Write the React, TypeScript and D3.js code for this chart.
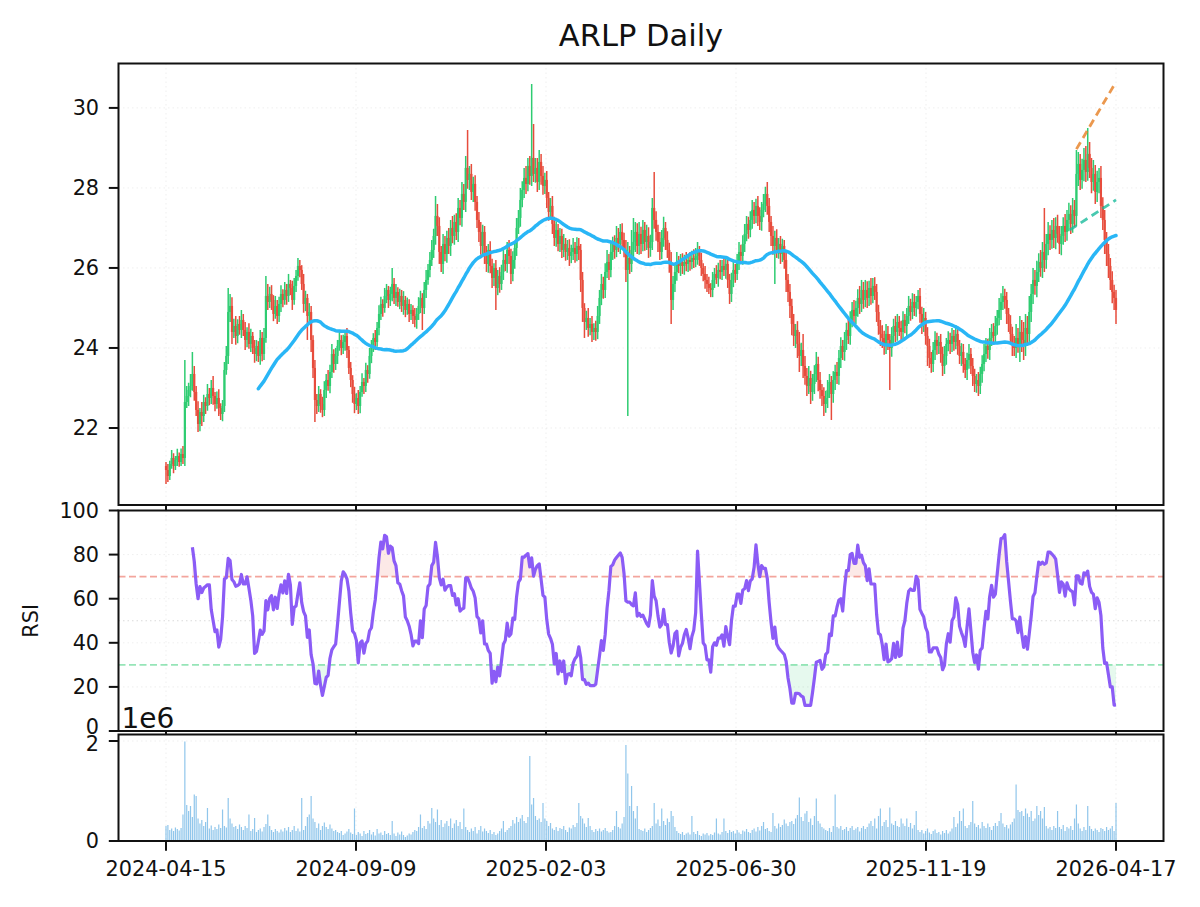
import React from "react";
import * as d3 from "d3";

// ---------- data ----------
const tickDates = ["2024-04-15", "2024-09-09", "2025-02-03", "2025-06-30", "2025-11-19", "2026-04-17"];

const firstOpen = 21.05;

const closes = [
  20.95, 20.80, 21.10, 21.25, 21.05, 21.20, 21.30, 21.15, 21.35, 21.25,
  22.65, 22.80, 22.95, 23.05, 23.35, 22.90, 22.45, 22.10, 22.40, 22.30,
  22.65, 22.55, 22.85, 22.75, 23.00, 22.80, 22.60, 22.75, 22.50, 22.35,
  22.55, 23.45, 23.80, 24.90, 25.05, 24.40, 24.55, 24.30, 24.60, 24.45,
  24.70, 24.45, 24.20, 24.40, 24.10, 24.30, 24.00, 23.85, 24.05, 23.80,
  24.25, 23.85, 24.25, 25.30, 25.15, 25.35, 25.20, 24.85, 25.05, 24.80,
  25.10, 25.35, 25.20, 25.45, 25.30, 25.60, 25.50, 25.20, 25.55, 25.80,
  26.05, 25.95, 25.60, 25.10, 25.25, 24.80, 24.90, 24.20, 23.50, 22.70,
  22.55, 22.85, 22.60, 22.45, 22.95, 23.20, 23.05, 23.40, 23.85, 23.60,
  23.80, 24.05, 24.20, 24.00, 24.15, 24.30, 23.95, 23.50, 23.20, 22.85,
  22.60, 22.75, 22.55, 22.90, 23.15, 23.05, 23.45, 23.35, 23.80, 24.05,
  24.25, 24.15, 24.50, 24.85, 25.10, 25.00, 25.30, 25.45, 25.20, 25.35,
  25.60, 25.25, 25.40, 25.15, 25.30, 25.05, 25.20, 24.95, 25.10, 24.85,
  24.95, 24.80, 24.70, 24.85, 25.05, 25.25, 25.00, 25.45, 25.70, 25.95,
  26.20, 26.45, 26.80, 27.30, 27.05, 26.40, 26.10, 26.60, 26.35, 26.75,
  26.55, 27.00, 26.80, 27.15, 26.90, 27.50, 27.25, 27.85, 27.65, 28.50,
  28.20, 28.35, 27.90, 28.10, 27.65, 27.20, 26.90, 26.55, 26.90, 26.35,
  26.10, 26.45, 26.05, 25.75, 26.00, 25.50, 25.80, 25.60, 25.90, 26.20,
  26.10, 26.45, 26.30, 25.85, 26.20, 26.50, 27.00, 27.25, 27.70, 27.95,
  28.25, 28.10, 28.55, 28.30, 28.75, 28.35, 28.50, 28.15, 28.65, 28.30,
  28.05, 28.20, 27.75, 27.40, 27.55, 27.10, 26.75, 26.95, 26.60, 26.80,
  26.45, 26.60, 26.40, 26.50, 26.30, 26.40, 26.50, 26.35, 26.55, 26.45,
  25.70, 25.00, 24.65, 24.75, 24.50, 24.60, 24.40, 24.50, 24.40, 24.80,
  25.25, 25.60, 25.45, 25.90, 26.15, 25.95, 26.40, 26.60, 26.45, 26.75,
  26.60, 26.90, 26.70, 26.45, 25.95, 26.25, 26.10, 26.45, 26.65, 26.90,
  26.55, 26.85, 26.60, 26.95, 26.65, 26.80, 26.50, 26.65, 27.50, 27.20,
  26.90, 26.65, 26.40, 26.75, 27.00, 26.70, 26.45, 26.10, 25.20, 25.60,
  25.90, 26.15, 26.05, 26.15, 26.05, 26.15, 26.10, 26.20, 26.15, 26.25,
  26.20, 26.30, 26.40, 26.20, 26.00, 25.85, 25.70, 25.60, 25.50, 25.45,
  25.70, 25.85, 25.75, 25.95, 25.90, 26.05, 25.95, 26.10, 25.70, 25.35,
  25.70, 25.95, 25.85, 26.15, 26.40, 26.30, 26.60, 26.85, 27.10, 26.95,
  27.20, 27.45, 27.30, 27.55, 27.30, 27.15, 27.45, 27.60, 27.85, 27.55,
  27.15, 26.80, 26.55, 26.75, 26.45, 26.60, 26.35, 26.55, 26.20, 25.70,
  25.40, 25.05, 24.60, 24.30, 24.45, 24.10, 23.80, 23.95, 23.55, 23.30,
  23.05, 23.25, 22.90, 23.10, 23.35, 23.60, 23.20, 22.95, 22.80, 22.60,
  22.75, 22.95, 23.15, 22.85, 23.20, 23.40, 23.30, 23.75, 24.05, 23.90,
  24.20, 24.45, 24.30, 24.70, 24.95, 24.80, 25.00, 25.25, 25.10, 25.45,
  25.20, 25.45, 25.25, 25.50, 25.30, 25.55, 25.40, 24.90, 24.55, 24.35,
  24.25, 24.05, 24.35, 24.20, 24.00, 24.30, 24.55, 24.40, 24.65, 24.50,
  24.40, 24.70, 24.55, 24.80, 25.05, 24.90, 25.15, 25.00, 25.15, 25.30,
  24.85, 24.60, 24.75, 24.30, 24.05, 23.75, 23.60, 23.95, 24.20, 24.05,
  24.15, 23.85, 23.55, 23.80, 24.10, 24.20, 24.10, 24.30, 24.15, 24.35,
  24.05, 23.80, 23.90, 23.60, 23.45, 23.70, 23.85, 23.55, 23.30, 23.10,
  23.20, 23.05, 23.35, 23.60, 23.85, 24.05, 23.95, 24.25, 24.40, 24.30,
  24.55, 24.75, 24.95, 25.15, 25.30, 25.20, 24.85, 24.60, 24.35, 24.10,
  24.00, 24.25, 24.10, 24.40, 24.20, 24.05, 24.50, 24.35, 24.90, 25.35,
  25.70, 25.55, 25.90, 26.15, 26.00, 26.40, 26.20, 26.60, 26.85, 26.70,
  26.95, 26.75, 27.05, 26.85, 26.60, 26.80, 27.05, 26.90, 27.20, 27.35,
  27.10, 27.45, 27.30, 28.35, 28.60, 28.20, 28.45, 28.70, 28.40, 28.85,
  28.50, 28.15, 28.35, 27.90, 28.15, 28.25, 27.55, 27.20, 26.70, 26.35,
  26.05, 25.70, 25.40, 25.25, 24.95,
];

// upper / lower shadows beyond the body, in cents
const wickUpCents = [
  10, 15, 8, 20, 12, 10, 18, 9, 14, 20,
  105, 25, 18, 30, 55, 20, 15, 22, 10, 25,
  18, 12, 25, 15, 20, 30, 10, 16, 22, 12,
  15, 20, 25, 60, 30, 22, 18, 25, 12, 20,
  25, 15, 20, 12, 22, 18, 10, 20, 15, 12,
  20, 15, 25, 50, 30, 18, 22, 12, 25, 15,
  18, 22, 12, 20, 15, 25, 10, 18, 20, 15,
  20, 15, 12, 25, 18, 10, 22, 15, 12, 20,
  15, 20, 12, 18, 22, 15, 25, 18, 25, 12,
  20, 15, 25, 12, 18, 15, 20, 10, 15, 12,
  18, 12, 20, 15, 22, 10, 18, 12, 20, 15,
  12, 20, 15, 22, 18, 12, 20, 15, 10, 18,
  40, 15, 20, 12, 18, 15, 22, 10, 16, 12,
  15, 12, 20, 15, 22, 18, 12, 20, 25, 15,
  20, 25, 18, 50, 30, 22, 15, 25, 20, 18,
  25, 20, 30, 18, 22, 25, 20, 30, 25, 30,
  95, 20, 25, 18, 22, 15, 20, 25, 18, 15,
  20, 15, 22, 18, 12, 20, 15, 22, 18, 25,
  15, 20, 25, 18, 22, 15, 25, 20, 30, 22,
  25, 30, 20, 25, 185, 85, 25, 25, 30, 20,
  25, 18, 22, 15, 20, 25, 18, 22, 15, 20,
  18, 25, 15, 20, 22, 18, 25, 15, 22, 20,
  15, 20, 12, 18, 25, 15, 20, 12, 18, 25,
  20, 25, 18, 22, 30, 20, 25, 18, 22, 30,
  25, 20, 22, 18, 25, 40, 30, 50, 60, 25,
  22, 30, 18, 25, 20, 28, 22, 18, 25, 90,
  22, 18, 25, 20, 28, 15, 22, 18, 30, 20,
  18, 25, 15, 20, 22, 18, 25, 15, 20, 18,
  22, 20, 25, 15, 18, 12, 20, 15, 18, 12,
  20, 15, 22, 18, 25, 15, 20, 18, 12, 15,
  18, 22, 15, 20, 25, 18, 22, 25, 20, 18,
  22, 25, 20, 18, 25, 22, 20, 25, 18, 30,
  20, 15, 25, 18, 22, 15, 20, 18, 15, 20,
  15, 20, 18, 25, 15, 22, 30, 18, 40, 25,
  20, 30, 18, 25, 22, 30, 18, 20, 15, 22,
  18, 25, 20, 15, 22, 18, 25, 20, 22, 15,
  20, 18, 25, 22, 20, 25, 18, 22, 30, 25,
  20, 25, 22, 18, 25, 20, 22, 20, 18, 15,
  22, 18, 25, 20, 15, 22, 18, 25, 20, 15,
  18, 22, 15, 20, 25, 18, 22, 20, 15, 15,
  20, 18, 25, 15, 22, 18, 15, 20, 22, 18,
  15, 20, 18, 25, 15, 22, 18, 20, 15, 22,
  18, 15, 22, 20, 15, 18, 25, 15, 20, 18,
  15, 20, 18, 22, 25, 20, 18, 25, 20, 22,
  25, 20, 30, 22, 25, 18, 20, 15, 22, 18,
  20, 35, 25, 40, 30, 45, 35, 30, 40, 25,
  30, 25, 28, 22, 30, 25, 110, 25, 30, 22,
  25, 30, 22, 28, 20, 25, 22, 30, 25, 28,
  22, 30, 25, 60, 30, 25, 28, 30, 35, 65,
  30, 25, 35, 22, 28, 25, 30, 22, 25, 20,
  25, 20, 22, 18, 20,
];

const wickDownCents = [
  35, 15, 10, 12, 18, 10, 15, 12, 10, 15,
  20, 15, 25, 18, 12, 22, 15, 20, 18, 25,
  15, 20, 12, 18, 15, 22, 18, 12, 20, 15,
  18, 15, 12, 20, 25, 30, 15, 22, 18, 12,
  20, 15, 25, 18, 12, 20, 15, 22, 18, 15,
  22, 18, 15, 12, 20, 15, 25, 18, 12, 20,
  15, 20, 18, 12, 22, 15, 18, 25, 12, 15,
  12, 18, 15, 22, 18, 60, 20, 30, 25, 55,
  20, 15, 22, 18, 15, 20, 12, 18, 15, 22,
  15, 20, 12, 18, 15, 22, 20, 15, 18, 22,
  23, 15, 20, 18, 12, 20, 15, 22, 12, 18,
  15, 20, 12, 18, 15, 22, 12, 18, 20, 15,
  18, 15, 20, 12, 18, 15, 22, 18, 12, 20,
  15, 20, 18, 22, 15, 18, 55, 15, 20, 12,
  18, 15, 20, 22, 25, 30, 20, 25, 18, 22,
  20, 25, 18, 22, 20, 25, 18, 22, 20, 25,
  22, 25, 20, 25, 22, 20, 25, 22, 20, 25,
  20, 22, 18, 25, 20, 55, 18, 22, 15, 20,
  18, 22, 20, 25, 18, 22, 20, 15, 22, 18,
  20, 25, 18, 22, 25, 20, 22, 25, 20, 22,
  22, 20, 25, 22, 18, 25, 20, 22, 18, 20,
  20, 18, 22, 20, 25, 18, 20, 22, 18, 25,
  30, 35, 40, 20, 22, 18, 25, 20, 22, 18,
  20, 18, 22, 20, 15, 25, 18, 20, 22, 18,
  20, 25, 22, 18, 30, 365, 25, 20, 22, 25,
  20, 22, 25, 18, 22, 20, 25, 22, 20, 22,
  22, 25, 20, 18, 22, 25, 20, 22, 60, 25,
  20, 22, 18, 25, 20, 22, 18, 20, 22, 18,
  20, 18, 22, 15, 20, 18, 22, 20, 15, 18,
  18, 20, 15, 22, 18, 20, 15, 22, 20, 25,
  20, 18, 22, 15, 20, 18, 22, 20, 18, 22,
  18, 22, 20, 18, 25, 20, 22, 18, 20, 22,
  25, 25, 22, 95, 20, 22, 25, 20, 22, 30,
  25, 30, 28, 25, 30, 35, 40, 25, 30, 22,
  25, 20, 30, 22, 25, 20, 28, 22, 25, 30,
  22, 25, 20, 65, 22, 25, 20, 22, 25, 20,
  22, 25, 20, 22, 18, 25, 20, 22, 25, 20,
  22, 18, 25, 20, 22, 18, 20, 25, 22, 30,
  25, 22, 20, 25, 105, 22, 20, 25, 22, 20,
  20, 22, 18, 25, 20, 22, 18, 20, 22, 18,
  22, 25, 20, 22, 50, 25, 22, 20, 25, 22,
  20, 22, 25, 20, 22, 18, 25, 20, 22, 18,
  22, 20, 25, 22, 20, 25, 22, 20, 25, 20,
  22, 25, 20, 22, 18, 20, 22, 25, 20, 22,
  20, 22, 18, 25, 20, 22, 25, 20, 22, 30,
  20, 25, 22, 45, 30, 35, 25, 30, 22, 25,
  25, 22, 28, 25, 22, 25, 30, 22, 28, 25,
  22, 25, 28, 22, 25, 28, 22, 25, 22, 28,
  25, 22, 28, 25, 30, 25, 22, 28, 25, 22,
  25, 28, 22, 30, 25, 28, 30, 25, 35, 30,
  30, 25, 28, 30, 35,
];

// daily volume, millions of shares
const volumeMillions = [
  0.30, 0.32, 0.22, 0.25, 0.20, 0.27, 0.24, 0.21, 0.26, 0.53,
  1.99, 0.72, 0.60, 0.70, 0.48, 0.93, 0.90, 0.45, 0.35, 0.42,
  0.30, 0.38, 0.66, 0.25, 0.31, 0.22, 0.28, 0.24, 0.33, 0.26,
  0.63, 0.30, 0.27, 0.86, 0.45, 0.35, 0.28, 0.30, 0.24, 0.33,
  0.28, 0.22, 0.30, 0.26, 0.53, 0.20, 0.24, 0.46, 0.18, 0.22,
  0.25, 0.19, 0.28, 0.34, 0.53, 0.30, 0.22, 0.18, 0.24, 0.20,
  0.17, 0.23, 0.19, 0.26, 0.21, 0.28, 0.18, 0.22, 0.30, 0.20,
  0.25, 0.19, 0.86, 0.22, 0.30, 0.48, 0.53, 0.90, 0.45, 0.38,
  0.26, 0.35, 0.22, 0.30, 0.37, 0.28, 0.24, 0.33, 0.25, 0.20,
  0.22, 0.18, 0.16, 0.20, 0.12, 0.15, 0.19, 0.24, 0.17, 0.14,
  0.65, 0.12, 0.18, 0.15, 0.10, 0.20, 0.14, 0.16, 0.22, 0.13,
  0.18, 0.11, 0.24, 0.15, 0.17, 0.12, 0.20, 0.14, 0.16, 0.12,
  0.40, 0.15, 0.10, 0.17, 0.13, 0.19, 0.12, 0.08, 0.11, 0.15,
  0.13, 0.18, 0.22, 0.20, 0.28, 0.53, 0.26, 0.30, 0.24, 0.40,
  0.35, 0.66, 0.45, 0.38, 0.63, 0.32, 0.42, 0.28, 0.35, 0.40,
  0.30, 0.45, 0.26, 0.35, 0.42, 0.30, 0.38, 0.24, 0.65, 0.28,
  0.22, 0.18, 0.25, 0.20, 0.28, 0.15, 0.22, 0.30, 0.19, 0.25,
  0.20, 0.16, 0.22, 0.14, 0.18, 0.12, 0.15, 0.20, 0.25, 0.40,
  0.18, 0.22, 0.26, 0.30, 0.42, 0.35, 0.48, 0.38, 0.45, 0.52,
  0.40, 0.36, 0.48, 1.70, 0.73, 0.86, 0.50, 0.42, 0.45, 0.38,
  0.76, 0.45, 0.40, 0.30, 0.36, 0.25, 0.22, 0.28, 0.20, 0.26,
  0.24, 0.30, 0.22, 0.18, 0.27, 0.25, 0.32, 0.28, 0.36, 0.76,
  0.50, 0.45, 0.35, 0.28, 0.46, 0.30, 0.22, 0.18, 0.24, 0.20,
  0.25, 0.19, 0.22, 0.26, 0.20, 0.17, 0.18, 0.22, 0.30, 0.60,
  0.28, 0.25, 0.35, 0.48, 1.92, 1.35, 0.70, 1.10, 0.60, 0.45,
  0.70, 0.24, 0.22, 0.20, 0.25, 0.18, 0.22, 0.26, 0.30, 0.76,
  0.35, 0.43, 0.30, 0.65, 0.40, 0.32, 0.45, 0.38, 0.60, 0.50,
  0.28, 0.20, 0.16, 0.14, 0.18, 0.12, 0.15, 0.17, 0.13, 0.50,
  0.18, 0.14, 0.20, 0.12, 0.10, 0.15, 0.13, 0.16, 0.11, 0.14,
  0.12, 0.17, 0.45, 0.15, 0.13, 0.18, 0.45, 0.20, 0.16, 0.22,
  0.18, 0.20, 0.15, 0.22, 0.17, 0.14, 0.21, 0.19, 0.24, 0.18,
  0.16, 0.22, 0.25, 0.19, 0.28, 0.21, 0.30, 0.38, 0.24, 0.26,
  0.20, 0.18, 0.56, 0.30, 0.25, 0.35, 0.28, 0.32, 0.43, 0.35,
  0.30, 0.38, 0.40, 0.34, 0.45, 0.52, 0.87, 0.48, 0.40, 0.55,
  0.60, 0.38, 0.45, 0.32, 0.50, 0.85, 0.40, 0.35, 0.28, 0.25,
  0.22, 0.20, 0.26, 0.18, 0.30, 0.93, 0.28, 0.25, 0.30, 0.22,
  0.24, 0.28, 0.20, 0.26, 0.30, 0.22, 0.25, 0.28, 0.19, 0.26,
  0.30, 0.24, 0.28, 0.35, 0.40, 0.30, 0.45, 0.25, 0.50, 0.65,
  0.30, 0.38, 0.42, 0.28, 0.67, 0.35, 0.32, 0.40, 0.30, 0.28,
  0.45, 0.35, 0.30, 0.45, 0.28, 0.36, 0.25, 0.32, 0.60, 0.22,
  0.18, 0.22, 0.15, 0.20, 0.25, 0.17, 0.14, 0.20, 0.23, 0.16,
  0.18, 0.13, 0.20, 0.16, 0.22, 0.15, 0.19, 0.25, 0.48, 0.28,
  0.35, 0.60, 0.40, 0.65, 0.30, 0.26, 0.32, 0.38, 0.80, 0.35,
  0.28, 0.32, 0.25, 0.38, 0.30, 0.26, 0.35, 0.28, 0.22, 0.30,
  0.36, 0.30, 0.40, 0.56, 0.35, 0.28, 0.32, 0.25, 0.33, 0.38,
  0.45, 1.13, 0.62, 0.58, 0.60, 0.50, 0.65, 0.55, 0.48, 0.60,
  0.40, 0.45, 0.70, 0.52, 0.60, 0.45, 0.68, 0.30, 0.25, 0.28,
  0.22, 0.30, 0.26, 0.60, 0.28, 0.24, 0.32, 0.20, 0.28, 0.25,
  0.30, 0.22, 0.45, 0.73, 0.35, 0.25, 0.20, 0.28, 0.22, 0.70,
  0.30, 0.24, 0.20, 0.25, 0.22, 0.18, 0.26, 0.24, 0.20, 0.28,
  0.22, 0.25, 0.30, 0.20, 0.76,
];

// trend lines: [bar index, price]
const resistancePts = [[483, 28.97], [504, 30.65]];
const supportPts = [[479.5, 26.95], [504, 27.7]];

const priceTicks = [22, 24, 26, 28, 30];
const rsiTicks = [0, 20, 40, 60, 80, 100];
const volumeTicks = [0, 2];

// ---------- styling ----------
const UP = "#2ecc71";
const DOWN = "#e74c3c";
const SMA_COLOR = "#29b6f6";
const RSI_COLOR = "#8b5cf6";
const FONT = "DejaVu Sans, Verdana, sans-serif";

export default function App() {
  const W = 1200, H = 907;
  const L = 118.5, R = 1163.5;
  const P = { top: 63.5, bottom: 505 };
  const Q = { top: 510.5, bottom: 731 };
  const V = { top: 734.5, bottom: 841 };
  const tickLen = 9.7, tickPad = 9.7;
  const fsTick = 20.8;

  const n = closes.length;
  const marg = 0.05 * (n - 1);
  const x = d3.scaleLinear().domain([-marg, n - 1 + marg]).range([L, R]);
  const yP = d3.scaleLinear().domain([20.075, 31.11]).range([P.bottom, P.top]);
  const yR = d3.scaleLinear().domain([0, 100]).range([Q.bottom, Q.top]);
  const yV = d3.scaleLinear().domain([0, 2.13]).range([V.bottom, V.top]);

  const opens = closes.map((c, i) => (i === 0 ? firstOpen : closes[i - 1]));
  const highs = closes.map((c, i) => Math.max(c, opens[i]) + wickUpCents[i] / 100);
  const lows = closes.map((c, i) => Math.min(c, opens[i]) - wickDownCents[i] / 100);

  const sma = closes.map((c, i) => (i < 49 ? null : d3.mean(closes.slice(i - 49, i + 1))));
  const rsi = closes.map((c, i) => {
    if (i < 14) return null;
    let g = 0, l = 0;
    for (let k = i - 13; k <= i; k++) {
      const d = closes[k] - closes[k - 1];
      if (d > 0) g += d; else l -= d;
    }
    if (l === 0) return 100;
    return 100 - 100 / (1 + g / l);
  });

  const idx = d3.range(n);
  const smaPath = d3.line<number>().defined((i) => sma[i] != null).x((i) => x(i)).y((i) => yP(sma[i] as number))(idx) || "";
  const rsiIdx = idx.filter((i) => rsi[i] != null);
  const rsiPath = d3.line<number>().x((i) => x(i)).y((i) => yR(rsi[i] as number))(rsiIdx) || "";
  const obArea = d3.area<number>().x((i) => x(i)).y0(yR(70)).y1((i) => yR(Math.max(70, rsi[i] as number)))(rsiIdx) || "";
  const osArea = d3.area<number>().x((i) => x(i)).y0(yR(30)).y1((i) => yR(Math.min(30, rsi[i] as number)))(rsiIdx) || "";

  const xTickPos = d3.range(tickDates.length).map((k) => (k * (n - 1)) / (tickDates.length - 1));

  const grid = (top: number, bottom: number, ys: number[]) => (
    <g stroke="#b0b0b0" strokeOpacity={0.25} strokeWidth={0.8} strokeDasharray="1.5 3">
      {xTickPos.map((t, k) => (
        <line key={"gx" + k} x1={x(t)} x2={x(t)} y1={top} y2={bottom} />
      ))}
      {ys.map((yy, k) => (
        <line key={"gy" + k} x1={L} x2={R} y1={yy} y2={yy} />
      ))}
    </g>
  );

  const frame = (top: number, bottom: number) => (
    <rect x={L} y={top} width={R - L} height={bottom - top} fill="none" stroke="#111" strokeWidth={2} />
  );

  const xTicks = (bottom: number) => (
    <g stroke="#111" strokeWidth={2}>
      {xTickPos.map((t, k) => (
        <line key={k} x1={x(t)} x2={x(t)} y1={bottom} y2={bottom + tickLen} />
      ))}
    </g>
  );

  // labelShift nudges a label that would collide with the neighbouring panel's label
  const yTicks = (vals: number[], scale: (v: number) => number, labels: string[], fs: number, labelShift: (v: number) => number) => (
    <g>
      {vals.map((v, k) => (
        <g key={k}>
          <line x1={L - tickLen} x2={L} y1={scale(v)} y2={scale(v)} stroke="#111" strokeWidth={2} />
          <text x={L - tickLen - tickPad} y={scale(v) + labelShift(v)} dy="0.36em" textAnchor="end" fontSize={fs} fontFamily={FONT} fill="#111">
            {labels[k]}
          </text>
        </g>
      ))}
    </g>
  );

  const bw = 2.2;

  return (
    <svg width={W} height={H} style={{ position: "absolute", left: 0, top: 0, background: "#fff" }} xmlns="http://www.w3.org/2000/svg">
      <defs>
        <clipPath id="clipP"><rect x={L} y={P.top} width={R - L} height={P.bottom - P.top} /></clipPath>
        <clipPath id="clipQ"><rect x={L} y={Q.top} width={R - L} height={Q.bottom - Q.top} /></clipPath>
        <clipPath id="clipV"><rect x={L} y={V.top} width={R - L} height={V.bottom - V.top} /></clipPath>
      </defs>
      <rect x={0} y={0} width={W} height={H} fill="#fff" />

      <text x={(L + R) / 2} y={46} textAnchor="middle" fontSize={30.5} fontFamily={FONT} fill="#111">ARLP Daily</text>

      {/* ---------- price panel ---------- */}
      <rect x={L} y={P.top} width={R - L} height={P.bottom - P.top} fill="#fff" />
      {grid(P.top, P.bottom, priceTicks.map((v) => yP(v)))}
      <g clipPath="url(#clipP)">
        {idx.map((i) => {
          const up = closes[i] >= opens[i];
          const col = up ? UP : DOWN;
          const yTop = yP(Math.max(opens[i], closes[i]));
          const yBot = yP(Math.min(opens[i], closes[i]));
          return (
            <g key={i}>
              <line x1={x(i)} x2={x(i)} y1={yP(highs[i])} y2={yP(lows[i])} stroke={col} strokeWidth={1.5} />
              <rect x={x(i) - bw / 2} y={yTop} width={bw} height={Math.max(0.8, yBot - yTop)} fill={col} />
            </g>
          );
        })}
        <path d={smaPath} fill="none" stroke={SMA_COLOR} strokeWidth={3.5} strokeLinejoin="round" strokeLinecap="round" />
        <line x1={x(resistancePts[0][0])} y1={yP(resistancePts[0][1])} x2={x(resistancePts[1][0])} y2={yP(resistancePts[1][1])}
          stroke="#e67e22" strokeOpacity={0.8} strokeWidth={2.8} strokeDasharray="8 5" />
        <line x1={x(supportPts[0][0])} y1={yP(supportPts[0][1])} x2={x(supportPts[1][0])} y2={yP(supportPts[1][1])}
          stroke="#1abc9c" strokeOpacity={0.8} strokeWidth={2.8} strokeDasharray="8 5" />
      </g>
      {frame(P.top, P.bottom)}
      {xTicks(P.bottom)}
      {yTicks(priceTicks, yP, priceTicks.map(String), fsTick, () => 0)}

      {/* ---------- RSI panel ---------- */}
      <rect x={L} y={Q.top} width={R - L} height={Q.bottom - Q.top} fill="#fff" />
      {grid(Q.top, Q.bottom, rsiTicks.map((v) => yR(v)))}
      <g clipPath="url(#clipQ)">
        <path d={obArea} fill={DOWN} fillOpacity={0.12} />
        <path d={osArea} fill={UP} fillOpacity={0.12} />
        <line x1={L} x2={R} y1={yR(70)} y2={yR(70)} stroke={DOWN} strokeOpacity={0.5} strokeWidth={1.6} strokeDasharray="7 3.5" />
        <line x1={L} x2={R} y1={yR(30)} y2={yR(30)} stroke={UP} strokeOpacity={0.5} strokeWidth={1.6} strokeDasharray="7 3.5" />
        <line x1={L} x2={R} y1={yR(50)} y2={yR(50)} stroke="#999" strokeOpacity={0.35} strokeWidth={1.2} strokeDasharray="1.5 3" />
        <path d={rsiPath} fill="none" stroke={RSI_COLOR} strokeWidth={3.2} strokeLinejoin="round" />
      </g>
      {frame(Q.top, Q.bottom)}
      {xTicks(Q.bottom)}
      {yTicks(rsiTicks, yR, rsiTicks.map(String), fsTick, (v) => (v === 0 ? -4 : 0))}
      <text transform={`translate(38, ${(Q.top + Q.bottom) / 2}) rotate(-90)`} textAnchor="middle" fontSize={fsTick} fontFamily={FONT} fill="#111">RSI</text>

      {/* ---------- volume panel ---------- */}
      <rect x={L} y={V.top} width={R - L} height={V.bottom - V.top} fill="#fff" />
      {grid(V.top, V.bottom, volumeTicks.map((v) => yV(v)))}
      <g clipPath="url(#clipV)">
        {idx.map((i) => (
          <rect key={i} x={x(i) - 0.6} y={yV(volumeMillions[i])} width={1.2} height={yV(0) - yV(volumeMillions[i])} fill="#3498db" fillOpacity={0.55} />
        ))}
      </g>
      {frame(V.top, V.bottom)}
      {xTicks(V.bottom)}
      {yTicks(volumeTicks, yV, volumeTicks.map(String), fsTick, (v) => (v === 2 ? 3 : 0))}
      <text x={L + 3} y={V.top - 7} fontSize={28} fontFamily={FONT} fill="#111">1e6</text>

      {tickDates.map((d, k) => (
        <text key={d} x={x(xTickPos[k])} y={V.bottom + tickLen + tickPad} dy="0.76em" textAnchor="middle" fontSize={fsTick} fontFamily={FONT} fill="#111">
          {d}
        </text>
      ))}
    </svg>
  );
}
